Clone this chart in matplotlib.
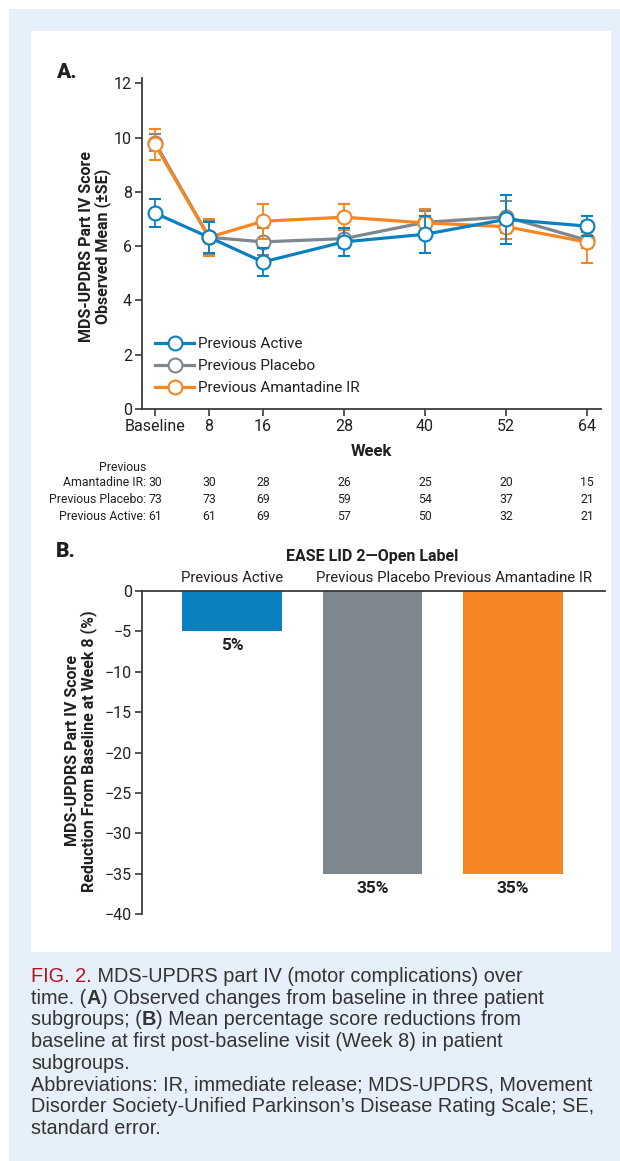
import matplotlib
matplotlib.use('Agg')
import matplotlib.pyplot as plt
import matplotlib.transforms as mtransforms
from matplotlib.patches import Rectangle
from matplotlib.lines import Line2D

W, H = 620, 1161
DPI = 100

# Panel A data
weeks = [0, 8, 16, 28, 40, 52, 64]
week_labels = ['Baseline', '8', '16', '28', '40', '52', '64']

active_mean = [7.22, 6.33, 5.42, 6.16, 6.44, 6.99, 6.74]
active_se = [0.52, 0.57, 0.50, 0.52, 0.68, 0.90, 0.36]
placebo_mean = [9.82, 6.33, 6.16, 6.28, 6.88, 7.08, 6.22]
placebo_se = [0.30, 0.62, 0.50, 0.35, 0.40, 0.60, 0.30]
aman_mean = [9.75, 6.33, 6.92, 7.07, 6.86, 6.72, 6.15]
aman_se = [0.57, 0.68, 0.65, 0.48, 0.50, 0.46, 0.78]

n_aman = [30, 30, 28, 26, 25, 20, 15]
n_placebo = [73, 73, 69, 59, 54, 37, 21]
n_active = [61, 61, 69, 57, 50, 32, 21]

# Panel B data
groups = ['Previous Active', 'Previous Placebo', 'Previous Amantadine IR']
reduction = [-5, -35, -35]
reduction_labels = ['5%', '35%', '35%']

BLUE = '#0a80c0'
GRAY = '#7e878c'
ORANGE = '#f58621'
DARK = '#231f20'
AXC = '#3a3a3a'
FS = 10.5

plt.rcParams['font.family'] = ['Roboto', 'DejaVu Sans']
plt.rcParams['text.color'] = DARK
plt.rcParams['axes.edgecolor'] = AXC
plt.rcParams['xtick.color'] = AXC
plt.rcParams['ytick.color'] = AXC
plt.rcParams['xtick.labelcolor'] = DARK
plt.rcParams['ytick.labelcolor'] = DARK
CAP_FONT = ['Liberation Sans', 'DejaVu Sans']

fig = plt.figure(figsize=(W / DPI, H / DPI), dpi=DPI)


def fx(px):
    return px / W


def fy(py):
    return 1 - py / H


# background boxes
fig.add_artist(Rectangle((fx(9), 0), 1 - fx(9), fy(9), transform=fig.transFigure,
                         facecolor='#e6f0fa', edgecolor='none', zorder=-10))
fig.add_artist(Rectangle((fx(31), fy(952)), fx(611) - fx(31), fy(31) - fy(952),
                         transform=fig.transFigure, facecolor='white', edgecolor='none', zorder=-9))

# ---------------- Panel A ----------------
axA = fig.add_axes([fx(141.7), fy(409), fx(601) - fx(141.7), fy(78) - fy(409)])
axA.set_facecolor('none')

series = [
    ('Previous Placebo', placebo_mean, placebo_se, GRAY, 3),
    ('Previous Amantadine IR', aman_mean, aman_se, ORANGE, 4),
    ('Previous Active', active_mean, active_se, BLUE, 5),
]
for name, m, se, c, z in series:
    axA.errorbar(weeks, m, yerr=se, color=c, lw=2.3, marker='o', ms=10,
                 mfc='white', mec=c, mew=1.5, capsize=4, elinewidth=1.3,
                 capthick=1.3, zorder=z)

axA.set_xlim(-1.97, 66.07)
axA.set_ylim(0, 12.2)
axA.set_xticks(weeks)
axA.set_xticklabels(week_labels)
axA.set_yticks(range(0, 13, 2))
for s in ['top', 'right']:
    axA.spines[s].set_visible(False)
for s in ['left', 'bottom']:
    axA.spines[s].set_linewidth(1.3)
axA.tick_params(length=5, width=1.2, labelsize=FS + 1, pad=2)

handles = [Line2D([], [], color=c, lw=2.3, marker='o', ms=10, mfc='white', mec=c, mew=1.5)
           for c in [BLUE, GRAY, ORANGE]]
axA.legend(handles, ['Previous Active', 'Previous Placebo', 'Previous Amantadine IR'],
           loc='upper left', bbox_to_anchor=(0.03, 0.217), frameon=False,
           fontsize=FS + 0.5, handlelength=2.5, handletextpad=0.3, labelspacing=0.52,
           borderpad=0, borderaxespad=0)

fig.text(fx(56), fy(72), 'A.', fontsize=15, fontweight='heavy', va='center', ha='left')
fig.text(fx(95), fy(246), 'MDS-UPDRS Part IV Score\nObserved Mean (\u00b1SE)', rotation=90,
         fontsize=11.5, fontweight='bold', ha='center', va='center', multialignment='center',
         linespacing=1.05)
fig.text(fx(371), fy(452), 'Week', fontsize=12, fontweight='bold', ha='center', va='center')

# numbers at risk
tr = mtransforms.blended_transform_factory(axA.transData, fig.transFigure)
rows = [('Previous\nAmantadine IR:', n_aman, 486),
        ('Previous Placebo:', n_placebo, 503),
        ('Previous Active:', n_active, 520)]
for label, vals, ypx in rows:
    fig.text(fx(146), fy(ypx), label, fontsize=8.8, ha='right', va='baseline',
             multialignment='right', linespacing=1.2)
    for w, v in zip(weeks, vals):
        axA.text(w, fy(ypx), str(v), transform=tr, fontsize=8.8, ha='center', va='baseline')

# ---------------- Panel B ----------------
axB = fig.add_axes([fx(141.7), fy(914), fx(605) - fx(141.7), fy(591) - fy(914)])
axB.set_facecolor('none')
x = range(len(groups))
axB.bar(x, reduction, width=0.71, color=[BLUE, GRAY, ORANGE], zorder=2)
axB.set_xlim(-0.645, 2.655)
axB.set_ylim(-40, 0)
axB.set_yticks(range(-40, 1, 5))
axB.set_xticks([])
for s in ['right', 'bottom']:
    axB.spines[s].set_visible(False)
for s in ['left', 'top']:
    axB.spines[s].set_linewidth(1.3)
axB.tick_params(length=5, width=1.2, labelsize=FS + 1, pad=2)

trB = mtransforms.blended_transform_factory(axB.transData, fig.transFigure)
for i, (g, v, lab) in enumerate(zip(groups, reduction, reduction_labels)):
    axB.text(i, v - 1.8, lab, fontsize=12.5, fontweight='bold', ha='center', va='center')
    axB.text(i, fy(578), g, transform=trB, fontsize=FS + 0.2, ha='center', va='center')
axB.text(1, fy(556), 'EASE LID 2\u2014Open Label', transform=trB, fontsize=11.5,
         fontweight='bold', ha='center', va='center')

fig.text(fx(56), fy(551), 'B.', fontsize=15, fontweight='heavy', va='center', ha='left')
fig.text(fx(81), fy(751), 'MDS-UPDRS Part IV Score\nReduction From Baseline at Week 8 (%)',
         rotation=90, fontsize=11.5, fontweight='bold', ha='center', va='center',
         multialignment='center', linespacing=1.05)

# ---------------- Caption ----------------
RED = '#b5121b'
CAP = '#333333'
caption = [
    [('FIG. 2.', 'normal', RED), (' MDS-UPDRS part IV (motor complications) over', 'normal', CAP)],
    [('time. (', 'normal', CAP), ('A', 'bold', CAP), (') Observed changes from baseline in three patient', 'normal', CAP)],
    [('subgroups; (', 'normal', CAP), ('B', 'bold', CAP), (') Mean percentage score reductions from', 'normal', CAP)],
    [('baseline at first post-baseline visit (Week 8) in patient', 'normal', CAP)],
    [('subgroups.', 'normal', CAP)],
    [('Abbreviations: IR, immediate release; MDS-UPDRS, Movement', 'normal', CAP)],
    [('Disorder Society-Unified Parkinson\u2019s Disease Rating Scale; SE,', 'normal', CAP)],
    [('standard error.', 'normal', CAP)],
]
renderer = fig.canvas.get_renderer()
for k, segs in enumerate(caption):
    xx = fx(31)
    yy = fy(982 + 21.7 * k)
    for s, wgt, col in segs:
        t = fig.text(xx, yy, s, fontsize=14.3, fontweight=wgt, color=col,
                     family=CAP_FONT, ha='left', va='baseline')
        xx = t.get_window_extent(renderer).x1 / W

fig.savefig('out.png', dpi=DPI)
